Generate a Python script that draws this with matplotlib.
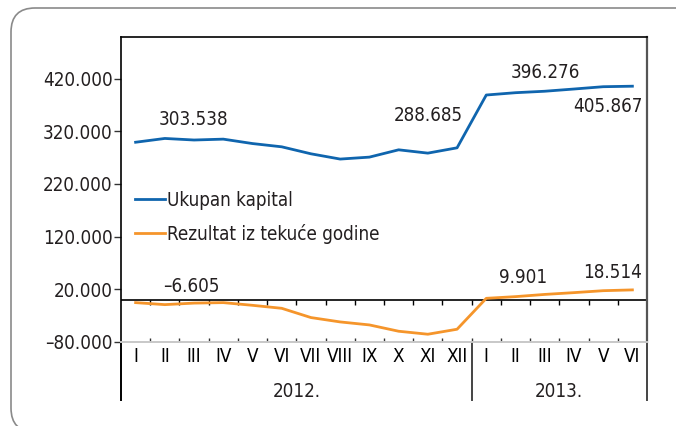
"""Ukupan kapital i rezultat iz tekuće godine, I 2012 – VI 2013."""

import matplotlib

matplotlib.use("Agg")

import matplotlib.pyplot as plt
import matplotlib.transforms as mtransforms
from matplotlib.patches import FancyBboxPatch

plt.rcParams["font.family"] = ["DejaVu Sans"]
plt.rcParams["font.stretch"] = "condensed"
plt.rcParams["font.size"] = 13.5

# --- podaci ---
MESECI = ["I", "II", "III", "IV", "V", "VI", "VII", "VIII", "IX", "X", "XI", "XII",
          "I", "II", "III", "IV", "V", "VI"]
GODINE = ["2012.", "2013."]
MESECI_PO_GODINI = [12, 6]

UKUPAN_KAPITAL = [299300, 306500, 303538, 305200, 296800, 290600, 277300, 267300, 271000,
                  284900, 278600, 288685, 389100, 393500, 396276, 400500, 404900, 405867]
REZULTAT = [-5700, -9500, -6605, -5700, -10800, -16500, -34100, -42400, -48100,
            -60100, -65800, -56300, 2500, 5700, 9901, 13300, 17000, 18514]

OZNAKE_KAPITAL = [2, 11, 14, 17]   # indeksi meseci sa ispisanom vrednošću
OZNAKE_REZULTAT = [2, 14, 17]

Y_TICKS = [-80000, 20000, 120000, 220000, 320000, 420000]

PLAVA = "#0f65ae"
NARANDZASTA = "#f5952b"
TEKST = "#231f20"


def fmt(v):
    s = f"{abs(int(round(v))):,}".replace(",", ".")
    return ("–" if v < 0 else "") + s


fig = plt.figure(figsize=(6.76, 4.26), dpi=100)

# okvir sa zaobljenim uglovima (u pikselima slike, y od dna)
bg = fig.add_axes([0, 0, 1, 1])
bg.set_xlim(0, 676)
bg.set_ylim(0, 426)
bg.axis("off")
bg.add_patch(FancyBboxPatch((11, -6), 690, 424, boxstyle="round,pad=0,rounding_size=24",
                            facecolor="none", edgecolor="#8a8a8a", linewidth=1.2))

ax = fig.add_axes([121 / 676, 1 - 341.7 / 426, 526 / 676, 305 / 426])
ax.set_facecolor("none")

x = list(range(len(MESECI)))
ax.plot(x, UKUPAN_KAPITAL, color=PLAVA, lw=2.0, label="Ukupan kapital", zorder=3)
ax.plot(x, REZULTAT, color=NARANDZASTA, lw=2.0, label="Rezultat iz tekuće godine", zorder=3)

ax.set_xlim(-0.5, len(MESECI) - 0.5)
ax.set_ylim(-80000, 500000)

# y osa
ax.set_yticks(Y_TICKS)
ax.set_yticklabels([fmt(v) for v in Y_TICKS], color=TEKST)
ax.tick_params(axis="y", direction="out", length=5, width=1, color="#333333", pad=1)

# donja osa: kratke crtice između meseci
granice = [i - 0.5 for i in range(1, len(MESECI))]
ax.set_xticks(granice)
ax.tick_params(axis="x", direction="in", length=3, width=1, color="#333333",
               labelbottom=False)

for s in ["left", "top"]:
    ax.spines[s].set_color("black")
    ax.spines[s].set_linewidth(1.2)
ax.spines["right"].set_color("#555555")
ax.spines["right"].set_linewidth(1.6)
ax.spines["bottom"].set_color("#c8c8c8")
ax.spines["bottom"].set_linewidth(1.4)

# nulta linija sa crticama nadole
ax.axhline(0, color="black", lw=1.2, zorder=2)
px = 580000 / 305  # vrednost po pikselu
ax.vlines(granice, -5 * px, 0, color="black", lw=1, zorder=2)

# oznake meseci i godina ispod ose
tr = mtransforms.blended_transform_factory(ax.transData, ax.transAxes)
for i, m in enumerate(MESECI):
    ax.text(i, -0.05, m, transform=tr, ha="center", va="center", color="black")

pocetak = -0.5
for god, n in zip(GODINE, MESECI_PO_GODINI):
    ax.text(pocetak + n / 2, -0.163, god, transform=tr, ha="center", va="center",
            color=TEKST)
    pocetak += n

donja = -58.3 / 305
for xs in [-0.5, 11.5, len(MESECI) - 0.5]:
    boja = "black" if xs < 0 else "#444444"
    ax.plot([xs, xs], [0, donja], transform=tr, color=boja, lw=1.4, clip_on=False)

# ispisane vrednosti
for i in OZNAKE_KAPITAL:
    v = UKUPAN_KAPITAL[i]
    if i == 11:
        off, ha = (6, 32), "right"
    elif i == len(MESECI) - 1:
        off, ha = (10, -20), "right"
    elif i == 14:
        off, ha = (1, 19), "center"
    else:
        off, ha = (-1, 21), "center"
    ax.annotate(fmt(v), (i, v), xytext=off, textcoords="offset pixels",
                ha=ha, va="center", color=TEKST)

for i in OZNAKE_REZULTAT:
    v = REZULTAT[i]
    if i == 2:
        off, ha = (-3, 17), "center"
    elif i == 14:
        off, ha = (2, 17), "right"
    else:
        off, ha = (10, 17), "right"
    ax.annotate(fmt(v), (i, v), xytext=off, textcoords="offset pixels",
                ha=ha, va="center", color=TEKST)

leg = ax.legend(loc="center left", bbox_to_anchor=(0.026, 0.408), frameon=False,
                borderpad=0, borderaxespad=0, handlelength=1.6, handletextpad=0.15,
                labelspacing=0.75)
for t in leg.get_texts():
    t.set_color(TEKST)

fig.savefig("out.png", dpi=100)
